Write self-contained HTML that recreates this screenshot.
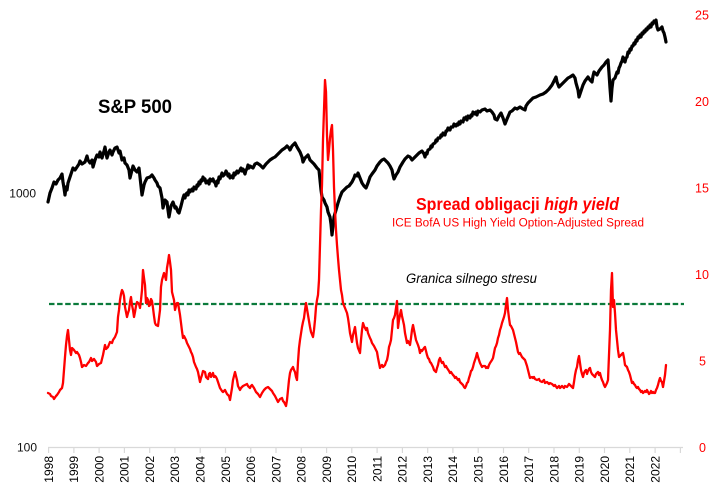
<!DOCTYPE html>
<html><head><meta charset="utf-8"><style>
html,body{margin:0;padding:0;background:#fff;}
svg{display:block;}
text{font-family:"Liberation Sans",Arial,sans-serif;}
</style></head><body>
<svg width="718" height="491" viewBox="0 0 718 491" xmlns="http://www.w3.org/2000/svg">
<rect width="718" height="491" fill="#fff"/>
<!-- axis -->
<line x1="48" y1="447.5" x2="683" y2="447.5" stroke="#d9d9d9" stroke-width="1.3"/>
<g stroke="#d9d9d9" stroke-width="1.2">
<line x1="48.6" y1="447" x2="48.6" y2="453"/><line x1="73.9" y1="447" x2="73.9" y2="453"/><line x1="99.1" y1="447" x2="99.1" y2="453"/><line x1="124.4" y1="447" x2="124.4" y2="453"/><line x1="149.7" y1="447" x2="149.7" y2="453"/><line x1="174.9" y1="447" x2="174.9" y2="453"/><line x1="200.2" y1="447" x2="200.2" y2="453"/><line x1="225.5" y1="447" x2="225.5" y2="453"/><line x1="250.8" y1="447" x2="250.8" y2="453"/><line x1="276.0" y1="447" x2="276.0" y2="453"/><line x1="301.3" y1="447" x2="301.3" y2="453"/><line x1="326.6" y1="447" x2="326.6" y2="453"/><line x1="351.8" y1="447" x2="351.8" y2="453"/><line x1="377.1" y1="447" x2="377.1" y2="453"/><line x1="402.4" y1="447" x2="402.4" y2="453"/><line x1="427.7" y1="447" x2="427.7" y2="453"/><line x1="452.9" y1="447" x2="452.9" y2="453"/><line x1="478.2" y1="447" x2="478.2" y2="453"/><line x1="503.5" y1="447" x2="503.5" y2="453"/><line x1="528.7" y1="447" x2="528.7" y2="453"/><line x1="554.0" y1="447" x2="554.0" y2="453"/><line x1="579.3" y1="447" x2="579.3" y2="453"/><line x1="604.5" y1="447" x2="604.5" y2="453"/><line x1="629.8" y1="447" x2="629.8" y2="453"/><line x1="655.1" y1="447" x2="655.1" y2="453"/><line x1="680.4" y1="447" x2="680.4" y2="453"/>
</g>
<!-- year labels -->
<g font-size="12" fill="#000" text-anchor="end">
<text transform="translate(53,456) rotate(-90)">1998</text>
<text transform="translate(78.2,456) rotate(-90)">1999</text>
<text transform="translate(103.4,456) rotate(-90)">2000</text>
<text transform="translate(128.7,456) rotate(-90)">2001</text>
<text transform="translate(154,456) rotate(-90)">2002</text>
<text transform="translate(179.2,456) rotate(-90)">2003</text>
<text transform="translate(204.5,456) rotate(-90)">2004</text>
<text transform="translate(229.8,456) rotate(-90)">2005</text>
<text transform="translate(255.1,456) rotate(-90)">2006</text>
<text transform="translate(280.3,456) rotate(-90)">2007</text>
<text transform="translate(305.6,456) rotate(-90)">2008</text>
<text transform="translate(330.9,456) rotate(-90)">2009</text>
<text transform="translate(356.1,456) rotate(-90)">2010</text>
<text transform="translate(381.4,456) rotate(-90)">2011</text>
<text transform="translate(406.7,456) rotate(-90)">2012</text>
<text transform="translate(432,456) rotate(-90)">2013</text>
<text transform="translate(457.2,456) rotate(-90)">2014</text>
<text transform="translate(482.5,456) rotate(-90)">2015</text>
<text transform="translate(507.8,456) rotate(-90)">2016</text>
<text transform="translate(533,456) rotate(-90)">2017</text>
<text transform="translate(558.3,456) rotate(-90)">2018</text>
<text transform="translate(583.6,456) rotate(-90)">2019</text>
<text transform="translate(608.8,456) rotate(-90)">2020</text>
<text transform="translate(634.1,456) rotate(-90)">2021</text>
<text transform="translate(659.4,456) rotate(-90)">2022</text>
</g>
<!-- left axis labels -->
<g font-size="12" fill="#111" text-anchor="end">
<text x="36" y="197.5">1000</text>
<text x="37" y="451.5">100</text>
</g>
<!-- right axis labels -->
<g font-size="12.5" fill="#ff0000" text-anchor="start">
<text x="695" y="19.5">25</text>
<text x="695" y="106">20</text>
<text x="695" y="192.5">15</text>
<text x="695" y="279">10</text>
<text x="699" y="365.5">5</text>
<text x="699" y="452">0</text>
</g>
<!-- threshold -->
<line x1="49" y1="304" x2="684" y2="304" stroke="#0b7a3b" stroke-width="2.2" stroke-dasharray="5.5,2.6"/>
<!-- S&P 500 -->
<polyline fill="none" stroke="#000" stroke-width="3.2" stroke-linejoin="round" stroke-linecap="round" points="48,202 50,193 52,188 54,182 56,184 58,180 60,178 62,174 63,182 64,188 65,195 66,187 67,190 68,183 70,177 72,171 73,168 75,170 77,167 79,164 80,161 82,164 85,162 87,156 88,160 90,163 92,160 93,167 95,160 97,155 99,157 100,152 102,158 104,151 105,147 106,153 107,158 109,152 110,150 112,155 113,152 115,148 117,147 119,153 120,151 122,160 124,158 125,163 127,165 129,170 130,178 132,170 133,166 135,170 137,172 139,168 140,177 141,186 142,195 144,185 145,182 147,178 150,177 152,175 154,178 155,180 157,183 158,186 160,188 162,198 163,208 165,200 167,202 168,210 169,217 171,206 173,202 175,208 176,207 178,212 179,213 181,206 183,198 184,195 185,198 186,194 187,193 188,195 189,190 190,192 192,189 193,191 194,187 196,189 197,185 198,186 199,182 200,184 201,180 202,181 203,177 204,180 205,179 206,183 208,181 209,184 210,179 211,181 213,179 214,182 215,182 216,186 217,181 218,183 219,177 220,179 222,173 223,176 225,174 226,171 227,173 228,176 229,174 230,178 232,176 233,178 234,173 235,175 237,171 238,173 240,170 241,168 242,171 243,169 245,174 246,170 247,169 248,165 249,168 250,166 253,168 255,164 257,163 260,165 263,168 266,164 268,162 270,160 273,158 275,157 277,155 279,153 282,150 285,148 287,146 289,148 290,150 292,146 295,143 297,147 300,152 302,157 303,162 305,158 308,155 310,160 312,162 314,164 317,168 319,170 320,180 321,190 322,197 324,200 325,203 327,207 328,212 330,217 331,224 332,235 333,226 334,217 336,210 338,203 340,197 342,192 344,190 347,187 349,186 352,182 354,178 355,175 357,176 358,173 360,178 362,183 364,186 366,188 368,183 370,177 372,174 375,170 377,166 380,162 382,160 384,159 386,161 388,163 390,166 392,170 393,175 394,179 396,175 398,172 400,167 403,162 405,159 408,156 410,157 412,160 414,158 417,155 419,153 422,151 424,154 425,157 426,153 427,154 428,150 430,149 431,146 432,147 433,144 435,143 436,140 437,141 438,138 440,138 441,135 442,136 443,133 445,135 446,131 447,131 448,128 450,130 451,127 453,127 454,124 456,126 457,124 458,125 459,122 460,124 461,121 463,122 464,118 465,119 466,117 467,120 468,116 470,118 471,115 472,116 473,112 475,114 476,112 477,115 478,111 480,112 482,110 485,109 487,111 490,110 492,112 494,115 495,119 497,120 499,116 501,113 503,118 505,124 507,119 510,112 512,111 515,108 517,109 520,107 523,109 525,110 526,106 528,103 531,100 533,98 536,97 540,95 543,94 546,92 549,89 552,85 554,81 556,77 557,82 559,87 561,85 564,82 566,80 568,78 570,77 573,75 575,78 576,83 578,90 579,97 581,91 583,85 585,81 588,77 590,80 592,82 593,76 594,72 596,74 597,75 599,71 602,67 604,65 606,62 608,60 609,73 610,88 611,101 612,88 613,80 615,78 616,75 617,72 618,73 619,68 620,66 621,63 622,61 623,57 624,61 625,62 626,58 627,57 628,52 629,53 630,49 631,50 632,46 633,46 634,43 635,44 636,40 637,41 638,37 639,38 640,35 641,37 642,33 643,34 644,31 645,32 646,29 647,30 648,27 649,28 650,25 651,27 652,23 653,24 654,21 655,22 656,20 657,27 658,30 660,29 662,27 663,31 664,33 665,37 666,42"/>
<!-- HY spread -->
<polyline fill="none" stroke="#ff0000" stroke-width="2.3" stroke-linejoin="round" stroke-linecap="round" points="48,393 50,394 51,396 53,397 54,399 56,396 57,395 59,392 60,390 62,388 63,383 64,370 65,357 66,345 67,336 68,330 69,340 70,350 71,355 72,348 74,350 76,353 77,352 79,355 80,358 81,362 82,367 84,365 86,366 88,363 89,362 91,358 92,361 94,359 96,362 97,366 99,364 101,363 103,355 105,345 106,349 108,347 110,342 112,343 113,340 115,337 117,332 118,317 119,310 120,300 121,294 122,290 123,292 124,296 125,307 126,312 127,317 128,313 129,310 130,302 131,297 132,305 133,310 134,317 135,312 136,306 137,302 139,304 140,308 141,300 142,290 143,270 144,278 145,285 146,303 147,298 148,300 149,306 150,305 151,299 152,301 153,308 154,316 155,323 156,325 158,326 159,318 160,310 161,287 162,280 164,273 165,276 166,280 167,268 168,262 169,255 170,262 171,270 172,292 173,296 174,300 175,310 176,306 177,303 178,303 179,309 180,315 181,323 182,331 183,338 184,336 186,340 187,343 188,345 189,347 190,349 191,352 192,354 193,357 194,362 196,367 197,369 198,372 199,377 200,382 201,378 202,375 203,371 205,372 206,377 207,378 208,379 209,374 210,373 211,377 212,375 213,373 214,377 215,376 216,377 217,379 218,382 219,385 220,388 222,391 223,392 225,390 226,392 227,394 228,395 229,396 230,400 231,394 232,388 233,380 235,372 236,376 237,380 238,386 240,390 241,388 243,386 245,385 247,384 248,386 250,388 251,386 252,385 254,388 256,392 258,394 260,397 262,393 264,390 266,388 268,387 270,389 271,390 272,391 273,393 275,396 276,398 277,400 278,402 280,399 282,398 283,401 284,402 285,404 286,406 287,400 288,390 289,380 290,373 291,370 293,367 294,370 295,372 296,377 297,380 298,362 299,348 300,340 302,327 303,322 304,318 305,310 306,303 307,309 308,315 309,321 310,327 311,332 313,337 314,330 315,320 316,307 317,300 318,295 319,280 320,245 321,210 322,185 323,140 324,110 325,80 326,92 327,135 328,160 329,150 330,138 331,130 332,125 333,150 334,187 335,210 336,230 337,245 338,258 339,270 340,280 341,290 342,295 343,303 345,308 347,313 348,318 349,325 350,333 352,342 353,335 355,327 356,335 357,343 358,348 360,353 361,340 362,330 363,323 364,326 365,328 366,330 367,328 368,333 370,338 371,340 372,343 374,346 375,348 377,352 378,358 379,363 380,368 381,366 382,365 383,367 385,365 386,362 387,360 388,355 389,347 390,344 391,340 392,330 393,320 394,318 395,315 396,308 397,301 398,328 399,320 400,315 401,310 402,316 404,325 405,333 406,338 407,343 408,341 410,345 411,338 412,330 413,325 414,330 415,335 416,340 418,345 419,348 420,353 421,350 422,351 424,348 425,347 426,351 427,355 428,358 429,359 430,362 431,363 432,365 433,367 434,370 435,371 436,372 437,368 438,365 439,360 440,358 441,361 442,363 443,362 445,367 446,366 447,368 449,371 450,373 451,372 453,375 454,376 455,378 456,377 458,380 459,379 460,382 461,383 463,385 464,387 465,388 466,386 467,383 468,382 469,378 470,375 471,371 472,370 473,367 474,363 475,360 476,357 477,353 478,357 479,360 480,363 481,365 482,367 483,366 485,366 486,368 487,367 488,368 489,365 490,363 492,360 493,358 494,353 495,348 496,346 497,343 498,338 499,335 500,330 501,327 502,323 503,320 504,317 505,313 506,305 507,298 508,310 509,318 510,325 511,326 512,328 513,330 514,334 515,338 516,342 517,347 518,352 519,354 520,353 521,355 522,357 523,358 525,360 526,363 527,366 528,370 529,374 530,378 532,377 533,378 534,377 535,379 537,380 539,379 540,381 542,382 544,380 545,383 547,382 549,384 550,383 552,384 554,386 555,385 557,388 559,386 560,388 562,386 564,388 565,386 567,387 569,384 570,385 572,387 573,388 574,382 575,375 576,370 577,367 578,360 579,356 580,363 581,370 582,374 583,377 584,373 585,371 586,370 587,374 588,371 589,369 590,368 591,372 592,374 593,375 594,376 595,377 596,374 597,373 598,372 599,375 600,373 601,377 602,380 603,382 604,385 605,387 606,385 607,383 608,380 609,355 610,330 611,290 612,273 613,307 614,300 615,313 616,330 617,340 618,350 619,357 620,356 621,355 622,354 623,353 624,358 625,365 626,366 627,367 628,370 629,372 630,375 631,379 632,383 633,382 634,384 635,385 636,387 637,388 638,387 639,389 640,390 641,392 642,391 643,393 645,391 646,392 647,390 648,392 649,394 650,393 651,391 652,393 653,392 654,393 655,393 656,390 657,388 658,385 659,381 660,378 661,381 662,382 663,387 664,381 665,375 666,365"/>
<!-- Titles -->
<text x="98" y="113" font-size="19" font-weight="bold" fill="#000" textLength="74" lengthAdjust="spacingAndGlyphs">S&amp;P 500</text>
<text x="416" y="210" font-size="17.5" font-weight="bold" fill="#ff0000" textLength="203" lengthAdjust="spacingAndGlyphs">Spread obligacji <tspan font-style="italic">high yield</tspan></text>
<text x="392" y="226.5" font-size="11.5" fill="#ff0000" textLength="252" lengthAdjust="spacingAndGlyphs">ICE BofA US  High Yield Option-Adjusted Spread</text>
<text x="406" y="283" font-size="13.5" font-style="italic" fill="#000" textLength="131" lengthAdjust="spacingAndGlyphs">Granica silnego stresu</text>
</svg>
</body></html>
